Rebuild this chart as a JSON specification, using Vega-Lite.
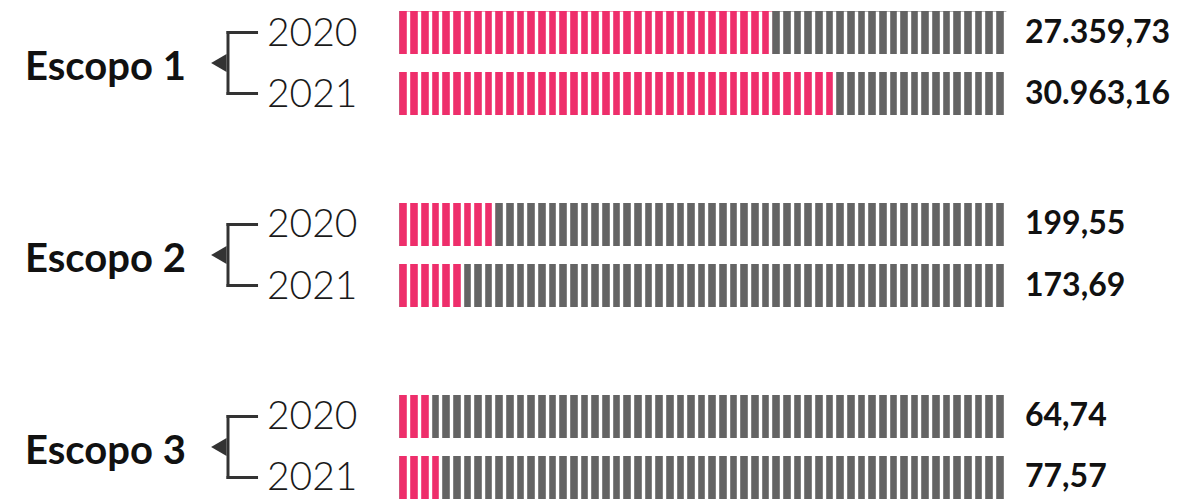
{
  "$schema": "https://vega.github.io/schema/vega-lite/v6.json",
  "width": 1189,
  "height": 488,
  "padding": {"left": 0, "right": 0, "top": 11, "bottom": 1},
  "autosize": {"type": "none"},
  "background": "white",
  "config": {
    "view": {"stroke": null},
    "locale": {"number": {"decimal": ",", "thousands": ".", "grouping": [3], "currency": ["R$", ""]}}
  },
  "data": {
    "values": [
      {"escopo": "Escopo 1", "ano": "2020", "emissao": 27359.73, "barras": 35},
      {"escopo": "Escopo 1", "ano": "2021", "emissao": 30963.16, "barras": 41},
      {"escopo": "Escopo 2", "ano": "2020", "emissao": 199.55, "barras": 9},
      {"escopo": "Escopo 2", "ano": "2021", "emissao": 173.69, "barras": 6},
      {"escopo": "Escopo 3", "ano": "2020", "emissao": 64.74, "barras": 3},
      {"escopo": "Escopo 3", "ano": "2021", "emissao": 77.57, "barras": 4}
    ]
  },
  "encoding": {
    "y": {"field": "escopo", "type": "nominal", "scale": {"paddingInner": 0.458, "paddingOuter": 0}, "axis": null}
  },
  "layer": [
    {
      "mark": {"type": "bar", "color": "#646464"},
      "encoding": {
        "x": {
          "datum": 0, "type": "quantitative",
          "scale": {"domain": [-37.5, 74.15], "nice": false, "zero": false},
          "axis": {
            "title": null, "labels": false, "ticks": false, "domain": false,
            "grid": true, "gridColor": "white", "gridWidth": 3.4, "gridOpacity": 1, "zindex": 1,
            "tickCount": 500,
            "values": [0.84,1.84,2.84,3.84,4.84,5.84,6.84,7.84,8.84,9.84,10.84,11.84,12.84,13.84,14.84,15.84,16.84,17.84,18.84,19.84,20.84,21.84,22.84,23.84,24.84,25.84,26.84,27.84,28.84,29.84,30.84,31.84,32.84,33.84,34.84,35.84,36.84,37.84,38.84,39.84,40.84,41.84,42.84,43.84,44.84,45.84,46.84,47.84,48.84,49.84,50.84,51.84,52.84,53.84,54.84,55.84,56.84]
          }
        },
        "x2": {"datum": 57},
        "yOffset": {"field": "ano", "type": "nominal", "scale": {"paddingInner": 0.295, "paddingOuter": 0}}
      }
    },
    {
      "mark": {"type": "bar", "color": "#EE2E6B"},
      "encoding": {
        "x": {"field": "barras", "type": "quantitative"},
        "x2": {"datum": 0},
        "yOffset": {"field": "ano", "type": "nominal"}
      }
    },
    {
      "mark": {"type": "text", "align": "left", "baseline": "middle", "font": "Lato", "fontWeight": 300, "fontSize": 39, "color": "#1a1a1a", "dy": 1},
      "encoding": {
        "x": {"datum": -12.43, "type": "quantitative"},
        "yOffset": {"field": "ano", "type": "nominal"},
        "text": {"field": "ano", "type": "nominal"}
      }
    },
    {
      "mark": {"type": "text", "align": "left", "baseline": "middle", "font": "Lato", "fontWeight": "bold", "fontSize": 32, "color": "#111111"},
      "encoding": {
        "x": {"datum": 58.75, "type": "quantitative"},
        "yOffset": {"field": "ano", "type": "nominal"},
        "text": {"field": "emissao", "type": "quantitative", "format": ",.2f"}
      }
    },
    {
      "mark": {"type": "bar", "color": "#333333", "height": 3},
      "encoding": {
        "x": {"datum": -16.23, "type": "quantitative"},
        "x2": {"datum": -13.27},
        "yOffset": {"field": "ano", "type": "nominal"}
      }
    },
    {
      "transform": [{"filter": "datum.ano == '2020'"}],
      "layer": [
        {
          "mark": {"type": "bar", "color": "#333333", "height": 64},
          "encoding": {
            "x": {"datum": -16.23, "type": "quantitative"},
            "x2": {"datum": -15.95}
          }
        },
        {
          "mark": {"type": "point", "shape": "triangle-left", "filled": true, "opacity": 1, "color": "#333333", "size": 320},
          "encoding": {
            "x": {"datum": -16.95, "type": "quantitative"}
          }
        },
        {
          "mark": {"type": "text", "align": "left", "baseline": "middle", "font": "Lato", "fontWeight": "bold", "fontSize": 40, "color": "#111111", "dy": 5},
          "encoding": {
            "x": {"datum": -35.15, "type": "quantitative"},
            "text": {"field": "escopo", "type": "nominal"}
          }
        }
      ]
    }
  ]
}
